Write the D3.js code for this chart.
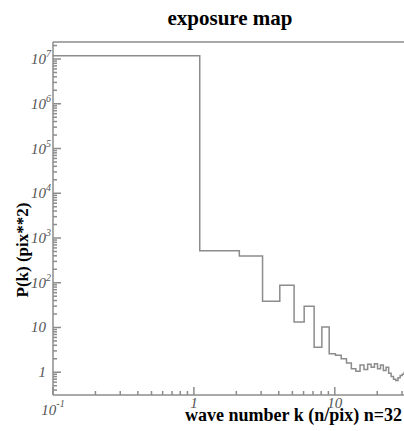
<!DOCTYPE html>
<html>
<head>
<meta charset="utf-8">
<script src="https://cdn.jsdelivr.net/npm/d3@7"></script>
<style>
  body { margin: 0; background: #fff; }
  svg { display: block; }
</style>
</head>
<body>
<div id="chart"></div>
<script>
// step histogram: left edge of each bin (k) and its power
const binStart = [0.1, 1.1, 2.1, 3.07, 4.07, 5.14, 6.06, 7.13, 8.09, 9.12,
  10.1, 11.1, 12.1, 13.1, 14.1, 15.1, 16.1, 17.1, 18.1, 19.1, 20.1,
  21.1, 22.1, 23.1, 24.1, 25.1, 26.1, 27.1, 28.1, 29.1, 30.1, 31.1];
const power = [1.19e7, 517, 394, 38.8, 88, 13.3, 30, 3.6, 10.3, 2.6,
  2.4, 2.0, 1.6, 1.2, 1.05, 1.45, 1.15, 1.5, 1.3, 1.55, 1.2,
  1.45, 1.1, 1.3, 0.95, 0.8, 0.7, 0.65, 0.75, 0.85, 0.9, 1.0];

const yMajor = [1, 10, 1e2, 1e3, 1e4, 1e5, 1e6, 1e7];
const yLabels = [["1", ""], ["10", ""], ["10", "2"], ["10", "3"], ["10", "4"], ["10", "5"], ["10", "6"], ["10", "7"]];
const xMajor = [0.1, 1, 10];
const xLabels = [["10", "-1"], ["1", ""], ["10", ""]];

const width = 404, height = 431;
const mLeft = 53, mRight = 406, mTop = 42, mBottom = 395;
const grey = "#8c8c8c";
const labelGrey = "#555";

const svg = d3.select("#chart").append("svg")
  .attr("width", width).attr("height", height);

const x = d3.scaleLog().domain([0.1, 32]).range([mLeft, mRight]);
const y = d3.scaleLog().domain([0.31, 2.4e7]).range([mBottom, mTop]);

// title
svg.append("text")
  .attr("x", 230).attr("y", 25)
  .attr("text-anchor", "middle")
  .style("font-family", "'Liberation Serif', serif")
  .style("font-weight", "bold")
  .style("font-size", "21px")
  .text("exposure map");

// box lines (left, bottom, top)
const axes = svg.append("g").attr("stroke", grey).attr("stroke-width", 1.5).attr("fill", "none");
axes.append("line").attr("x1", mLeft).attr("x2", mLeft).attr("y1", mTop).attr("y2", mBottom);
axes.append("line").attr("x1", mLeft).attr("x2", width).attr("y1", mBottom).attr("y2", mBottom);
axes.append("line").attr("x1", mLeft).attr("x2", width).attr("y1", mTop).attr("y2", mTop);

// y ticks (inward)
const yMinor = [];
yMajor.concat([0.1]).forEach(d => {
  for (let m = 2; m <= 9; m++) {
    const v = d * m;
    if (v >= y.domain()[0] && v <= y.domain()[1] && !yMajor.includes(v)) yMinor.push(v);
  }
});
axes.selectAll(".ymaj").data(yMajor).enter().append("line")
  .attr("x1", mLeft).attr("x2", mLeft + 8)
  .attr("y1", d => y(d)).attr("y2", d => y(d));
axes.selectAll(".ymin").data(yMinor).enter().append("line")
  .attr("x1", mLeft).attr("x2", mLeft + 4)
  .attr("y1", d => y(d)).attr("y2", d => y(d));

// x ticks (inward)
const xMinor = [];
[0.1, 1, 10].forEach(d => {
  for (let m = 2; m <= 9; m++) {
    const v = d * m;
    if (v <= x.domain()[1]) xMinor.push(v);
  }
});
axes.selectAll(".xmaj").data(xMajor).enter().append("line")
  .attr("x1", d => x(d)).attr("x2", d => x(d))
  .attr("y1", mBottom).attr("y2", mBottom - 8);
axes.selectAll(".xmin").data(xMinor).enter().append("line")
  .attr("x1", d => x(d)).attr("x2", d => x(d))
  .attr("y1", mBottom).attr("y2", mBottom - 4);

// y tick labels
const yl = svg.append("g")
  .style("font-family", "'Liberation Serif', serif")
  .style("font-style", "italic")
  .style("fill", labelGrey);
yMajor.forEach((d, i) => {
  const [base, exp] = yLabels[i];
  const t = yl.append("text")
    .attr("x", mLeft - 2).attr("y", y(d) + 5)
    .attr("text-anchor", "end")
    .style("font-size", "15px");
  t.append("tspan").text(base);
  t.append("tspan").attr("dy", exp ? -7 : 0).style("font-size", "10px").text(exp ? exp : "\u2002");
});

// x tick labels
xMajor.forEach((d, i) => {
  const [base, exp] = xLabels[i];
  const t = yl.append("text")
    .attr("x", x(d)).attr("y", exp ? 415 : 408)
    .attr("text-anchor", "middle")
    .style("font-size", "15px");
  t.append("tspan").text(base);
  if (exp) t.append("tspan").attr("dy", -8).style("font-size", "10px").text(exp);
});

// axis titles
svg.append("text")
  .attr("x", 402).attr("y", 421)
  .attr("text-anchor", "end")
  .style("font-family", "'Liberation Serif', serif")
  .style("font-weight", "bold")
  .style("font-size", "18px")
  .text("wave number k (n/pix) n=32");

svg.append("text")
  .attr("transform", "translate(28,250) rotate(-90)")
  .attr("text-anchor", "middle")
  .style("font-family", "'Liberation Serif', serif")
  .style("font-weight", "bold")
  .style("font-size", "17px")
  .text("P(k) (pix**2)");

// data: step line
const pts = binStart.map((k, i) => [k, power[i]]);
pts.push([x.domain()[1], power[power.length - 1]]);
const line = d3.line()
  .x(d => x(d[0])).y(d => y(d[1]))
  .curve(d3.curveStepAfter);

svg.append("path")
  .attr("d", line(pts))
  .attr("fill", "none")
  .attr("stroke", grey)
  .attr("stroke-width", 1.5);
</script>
</body>
</html>
